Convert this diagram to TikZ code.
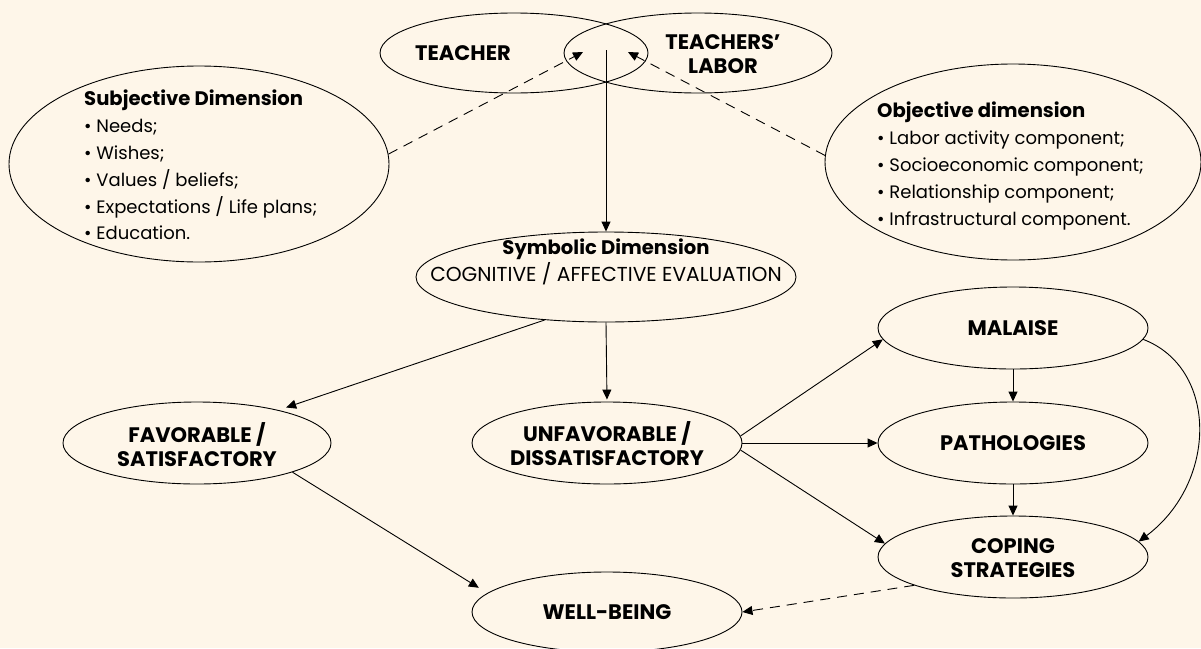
\documentclass[tikz,border=0pt]{standalone}
\usepackage{fontspec}
\setmainfont{Poppins}
\usetikzlibrary{arrows.meta,shapes.geometric}
\definecolor{bgcol}{RGB}{254,246,233}
\newcommand\lblfont{\fontsize{21}{24}\selectfont\bfseries}
\newcommand\titfont{\fontsize{19.6}{27}\selectfont\bfseries}
\newcommand\bulfont{\fontsize{18}{26.8}\selectfont}
\newcommand\capfont{\fontsize{20.2}{27}\selectfont}
\begin{document}
\begin{tikzpicture}[x=1pt,y=-1pt,
  ell/.style={draw, ellipse, line width=0.9pt, inner sep=0pt},
  txt/.style={inner sep=0pt, align=center, font=\lblfont},
  arr/.style={-{Triangle[length=10pt,width=9pt]}, line width=0.9pt},
  dsh/.style={arr, dash pattern=on 10pt off 7pt}]
\useasboundingbox (0,0) rectangle (1201,648);
\fill[bgcol] (0,0) rectangle (1201,648);
% top ellipses
\node[ell, minimum width=268, minimum height=80] (teacher) at (514,53) {};
\node[ell, minimum width=268, minimum height=80] (labor) at (698,53) {};
\node[txt] (teachertxt) at (463,53) {TEACHER};
\node[txt] (labortxt) at (723,54) {TEACHERS’\\LABOR};
% side ellipses
\node[ell, minimum width=380, minimum height=196] (subj) at (199,164) {};
\node[anchor=north west, align=left, inner sep=0pt, font=\bulfont] (subjtxt) at (84,90)
  {{\titfont Subjective Dimension}\\
   \textbullet\ Needs;\\
   \textbullet\ Wishes;\\
   \textbullet\ Values / beliefs;\\
   \textbullet\ Expectations / Life plans;\\
   \textbullet\ Education.};
\node[ell, minimum width=376, minimum height=196] (obj) at (1013,162) {};
\node[anchor=north west, align=left, inner sep=0pt, font=\bulfont] (objtxt) at (877,102)
  {{\titfont Objective dimension}\\
   \textbullet\ Labor activity component;\\
   \textbullet\ Socioeconomic component;\\
   \textbullet\ Relationship component;\\
   \textbullet\ Infrastructural component.};
% symbolic
\node[ell, minimum width=380, minimum height=90] (sym) at (606,277) {};
\node[font=\titfont, inner sep=0pt] (symtitle) at (606,249) {Symbolic Dimension};
\node[font=\capfont, inner sep=0pt] (symsub) at (606,274) {COGNITIVE / AFFECTIVE EVALUATION};
% evaluation nodes
\node[ell, minimum width=268, minimum height=82] (fav) at (197,443) {};
\node[txt] (favtxt) at (197,445) {FAVORABLE /\\SATISFACTORY};
\node[ell, minimum width=270, minimum height=82] (unfav) at (607,443) {};
\node[txt] (unfavtxt) at (607,444) {UNFAVORABLE /\\DISSATISFACTORY};
\node[ell, minimum width=270, minimum height=80] (wb) at (607,612) {};
\node[txt] (wbtxt) at (607,612) {WELL-BEING};
\node[ell, minimum width=270, minimum height=82] (mal) at (1013,328) {};
\node[txt] (maltxt) at (1013,328) {MALAISE};
\node[ell, minimum width=270, minimum height=82] (path) at (1013,443) {};
\node[txt] (pathtxt) at (1013,443) {PATHOLOGIES};
\node[ell, minimum width=270, minimum height=82] (cop) at (1013,557) {};
\node[txt] (coptxt) at (1013,558) {COPING\\STRATEGIES};
% connectors
\coordinate (mid) at (606,50);
\coordinate (ltip) at (583,52);
\coordinate (rtip) at (628,52);
\draw[arr] (mid) -- (sym.north);
\draw[dsh] (subj.3) -- (ltip);
\draw[dsh] (obj.178) -- (rtip);
\draw[arr, shorten >=8pt] (sym.215) -- (fav.22);
\draw[arr, shorten >=2pt] (sym.south) -- (unfav.north);
\draw[arr, shorten >=10pt] (fav.-17) -- (wb.171);
\draw[arr] (unfav.3) -- (mal.185);
\draw[arr] (unfav.east) -- (path.west);
\draw[arr] (unfav.-3) -- (cop.174);
\draw[arr] (mal.south) -- (path.north);
\draw[arr] (path.south) -- (cop.north);
\draw[arr] (mal.-5) .. controls (1218,368) and (1218,482) .. (cop.7);
\draw[dsh] (cop.196) -- (wb.east);
\end{tikzpicture}
\end{document}
